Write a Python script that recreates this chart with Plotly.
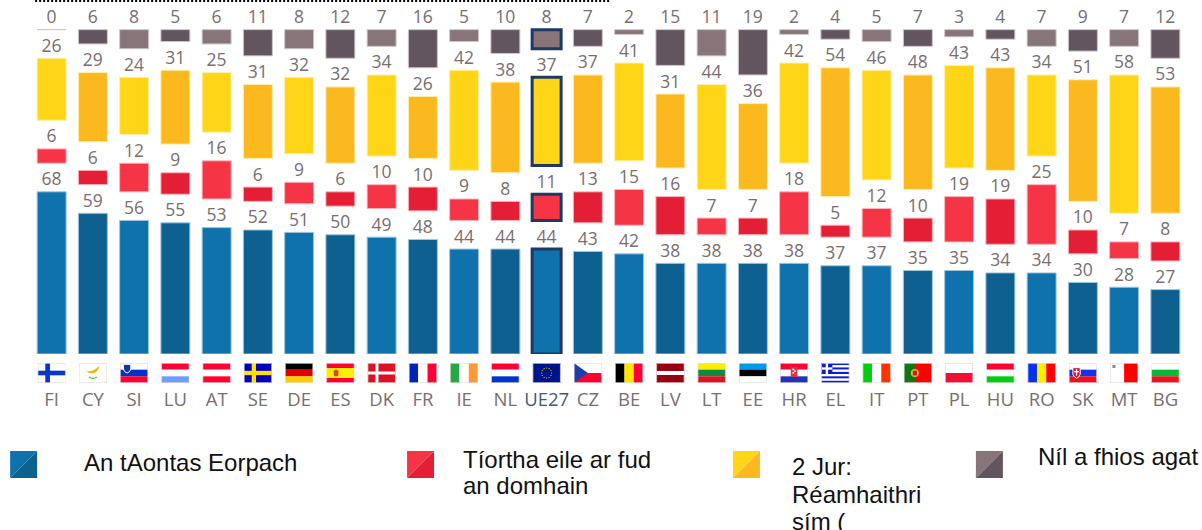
import base64
import plotly.graph_objects as go

countries = ["FI","CY","SI","LU","AT","SE","DE","ES","DK","FR","IE","NL","UE27","CZ","BE","LV","LT","EE","HR","EL","IT","PT","PL","HU","RO","SK","MT","BG"]
eu_values = [68,59,56,55,53,52,51,50,49,48,44,44,44,43,42,38,38,38,38,37,37,35,35,34,34,30,28,27]
other_values = [6,6,12,9,16,6,9,6,10,10,9,8,11,13,15,16,7,7,18,5,12,10,19,19,25,10,7,8]
own_values = [26,29,24,31,25,31,32,32,34,26,42,38,37,37,41,31,44,36,42,54,46,48,43,43,34,51,58,53]
dk_values = [0,6,8,5,6,11,8,12,7,16,5,10,8,7,2,15,11,19,2,4,5,7,3,4,7,9,7,12]
series_names = ["An tAontas Eorpach","Tíortha eile ar fud an domhain","2 Jur: Réamhaithrisím (","Níl a fhios agat"]

W, H = 1202, 530
BASE = 354
STEP = 41.26
LEFT = 51.5 - STEP / 2
UNIT = 2.385
GAP = 12
LABEL_PAD = 0.9
AVG = countries.index("UE27")
COL = [("#1072AD","#0E6090","#9CC7E0"),("#F53446","#E41F35","#FBB5BC"),("#FFD617","#FBB91F","#FFEFA8"),("#87757A","#635560","#CFC7CA")]
NAVY = "#1F3864"
TXT = "#7A6E70"
n = len(countries)

fig = go.Figure()
series = [eu_values, other_values, own_values, dk_values]
bottom = [0]*n
labels_x, labels_y, labels_t = [], [], []
for s, (vals, name, col) in enumerate(zip(series, series_names, COL)):
    fig.add_bar(x=countries, y=vals, name=name, base=bottom, offsetgroup="a", showlegend=False,
        marker=dict(color=[col[i % 2] for i in range(n)],
                    line=dict(color=[NAVY if i == AVG else col[2] for i in range(n)],
                              width=[3 if i == AVG else 1 for i in range(n)])))
    top = [b + v for b, v in zip(bottom, vals)]
    labels_x += countries; labels_y += [t + LABEL_PAD for t in top]; labels_t += vals
    bottom = [t + GAP for t in top]
fig.add_scatter(x=labels_x, y=labels_y, text=[str(t) for t in labels_t], mode="text", textposition="top center",
    textfont=dict(size=17.5, color=TXT, family="Open Sans"), showlegend=False, hoverinfo="skip", cliponaxis=False)

def svg(body):
    s = (f'<svg xmlns="http://www.w3.org/2000/svg" width="84" height="60" viewBox="0 0 84 60">{body}'
         '<rect x="1" y="1" width="82" height="58" fill="none" stroke="#E4DEDE" stroke-width="2"/></svg>')
    return "data:image/svg+xml;base64," + base64.b64encode(s.encode()).decode()
def hstr(*c):
    h = 60/len(c)
    return "".join(f'<rect y="{i*h}" width="84" height="{h+.2}" fill="{x}"/>' for i, x in enumerate(c))
def vstr(*c):
    w = 84/len(c)
    return "".join(f'<rect x="{i*w}" width="{w+.2}" height="60" fill="{x}"/>' for i, x in enumerate(c))
def cross(bg, fg, cx=30, t=12):
    return f'<rect width="84" height="60" fill="{bg}"/><rect x="{cx-t/2}" width="{t}" height="60" fill="{fg}"/><rect y="{30-t/2}" width="84" height="{t}" fill="{fg}"/>'
R = "#FF0033"; B = "#0033CC"; WH = "#FFFFFF"
stars = "".join(f'<circle cx="{42+15*x}" cy="{30+15*y}" r="1.8" fill="#FFDD00"/>' for x, y in
    [(0,-1),(.5,-.87),(.87,-.5),(1,0),(.87,.5),(.5,.87),(0,1),(-.5,.87),(-.87,.5),(-1,0),(-.87,-.5),(-.5,-.87)])
greek = "".join(f'<rect y="{i*60/9}" width="84" height="{60/9+.1}" fill="{"#0D1FCC" if i%2==0 else WH}"/>' for i in range(9)) + \
    '<rect width="33" height="33" fill="#0D1FCC"/><rect x="13" width="7" height="33" fill="#fff"/><rect y="13" width="33" height="7" fill="#fff"/>'
flags = {
 "FI": cross(WH, "#0A36C8", 30, 14),
 "CY": '<rect width="84" height="60" fill="#fff"/><path d="M22 24 Q42 28 62 8 Q58 24 46 30 Q32 34 22 24Z" fill="#F2B705"/><path d="M30 42 Q42 50 54 42" stroke="#5FC24A" stroke-width="4" fill="none"/>',
 "SI": hstr(WH,B,R) + '<path d="M10 4h22v14q-2 10-11 12q-9-2-11-12Z" fill="#1133AA" stroke="#fff" stroke-width="3"/>',
 "LU": hstr(R,WH,"#6E9CFF"), "AT": hstr(R,WH,R),
 "SE": cross("#0000BB","#FFE000",30,13), "DE": hstr("#000000","#E00000","#FFCC00"),
 "ES": hstr(R,"#FFEE00","#FFEE00",R) + '<rect x="22" y="20" width="14" height="20" rx="5" fill="#C8501E"/>',
 "DK": cross("#DD1122",WH,28,9), "FR": vstr("#0022BB",WH,R), "IE": vstr("#22AA44",WH,"#FF9933"),
 "NL": hstr(R,WH,B), "UE27": '<rect width="84" height="60" fill="#001489"/>' + stars,
 "CZ": hstr(WH,R) + '<path d="M0 0L42 30L0 60Z" fill="#1F3FA8"/>',
 "BE": vstr("#000000","#FFE600",R), "LV": '<rect width="84" height="60" fill="#990011"/><rect y="24" width="84" height="12" fill="#fff"/>',
 "LT": hstr("#FFEE00","#118844","#DD1122"), "EE": hstr("#0099EE","#000000",WH),
 "HR": hstr(R,WH,"#2233BB") + '<rect x="32" y="12" width="20" height="30" fill="#DD3344"/><rect x="37" y="17" width="5" height="5" fill="#fff"/><rect x="42" y="22" width="5" height="5" fill="#fff"/><rect x="37" y="27" width="5" height="5" fill="#fff"/>',
 "EL": greek, "IT": vstr("#00CC11",WH,"#FF3300"),
 "PT": '<rect width="84" height="60" fill="#FF0000"/><rect width="33" height="60" fill="#117711"/><circle cx="33" cy="30" r="12" fill="#DDBB33"/><rect x="27" y="23" width="12" height="14" fill="#cc1122"/>',
 "PL": hstr(WH,"#EE1133"), "HU": hstr("#FF0033",WH,"#00CC11"), "RO": vstr("#0033EE","#FFEE00","#FF0000"),
 "SK": hstr(WH,"#1133EE","#EE1122") + '<path d="M12 14h22v20q-2 8-11 12q-9-4-11-12Z" fill="#DD1122" stroke="#fff" stroke-width="3"/><rect x="21" y="18" width="4" height="20" fill="#fff"/><rect x="16" y="24" width="14" height="4" fill="#fff"/>',
 "MT": vstr(WH,"#FF0000") + '<rect x="7" y="6" width="9" height="9" fill="#888"/>',
 "BG": hstr(WH,"#00BB33","#EE1122"),
}
FW, FH = 28, 20
plot_w = STEP * n
def px(x): return (x - LEFT) / plot_w
def py(y): return (BASE - y) / BASE
images = []
for i, c in enumerate(countries):
    images.append(dict(source=svg(flags[c]), xref="paper", yref="paper", xanchor="center", yanchor="middle",
        x=(i + .5) / n, y=py(373), sizex=FW / plot_w, sizey=FH / BASE, sizing="stretch", layer="above"))

shapes, ann = [], []
for x0, col in zip([10, 407, 733, 976], COL):
    y0, s = 451, 27
    common = dict(type="path", xref="paper", yref="paper", line=dict(width=0))
    shapes.append(dict(common, fillcolor=col[0], path=f"M{px(x0)} {py(y0)} L{px(x0+s)} {py(y0)} L{px(x0)} {py(y0+s)} Z"))
    shapes.append(dict(common, fillcolor=col[1], path=f"M{px(x0+s)} {py(y0)} L{px(x0+s)} {py(y0+s)} L{px(x0)} {py(y0+s)} Z"))
shapes.append(dict(type="line", xref="paper", yref="paper", x0=px(35), x1=px(610), y0=py(1), y1=py(1),
                   line=dict(color="#000000", width=2, dash="2px,2px")))

legend_lines = [(84, 462, "An tAontas Eorpach"), (463, 459, "Tíortha eile ar fud"), (463, 485, "an domhain"),
                (792, 467, "2 Jur:"), (792, 494, "Réamhaithri"), (792, 521, "sím ("), (1038, 456, "Níl a fhios agat")]
for x, y, t in legend_lines:
    ann.append(dict(text=t, xref="paper", yref="paper", x=px(x), y=py(y), xanchor="left", yanchor="middle",
        xshift=-2, showarrow=False, align="left", font=dict(family="Liberation Sans", size=24, color="#111111")))

ticktext = [f'<span style="color:#3B5A8C">{c}</span>' if c == "UE27" else c for c in countries]
fig.update_layout(width=W, height=H, autosize=False, barmode="overlay", bargap=1 - 29 / STEP,
    margin=dict(l=LEFT, r=W - LEFT - plot_w, t=0, b=H - BASE, autoexpand=False),
    plot_bgcolor="#FFFFFF", paper_bgcolor="#FFFFFF", images=images, shapes=shapes, annotations=ann,
    xaxis=dict(type="category", categoryorder="array", categoryarray=countries, tickmode="array", tickvals=countries,
        ticktext=ticktext, range=[-0.5, n - 0.5], showgrid=False, zeroline=False, showline=False, ticks="outside", ticklen=29,
        tickcolor="rgba(0,0,0,0)", tickfont=dict(family="Open Sans", size=18.5, color=TXT), tickangle=0),
    yaxis=dict(range=[0, BASE / UNIT], visible=False, fixedrange=True))
fig.write_html("out.html", config={"displayModeBar": False},
               post_script="document.body.style.margin='0';document.documentElement.style.overflow='hidden';")
